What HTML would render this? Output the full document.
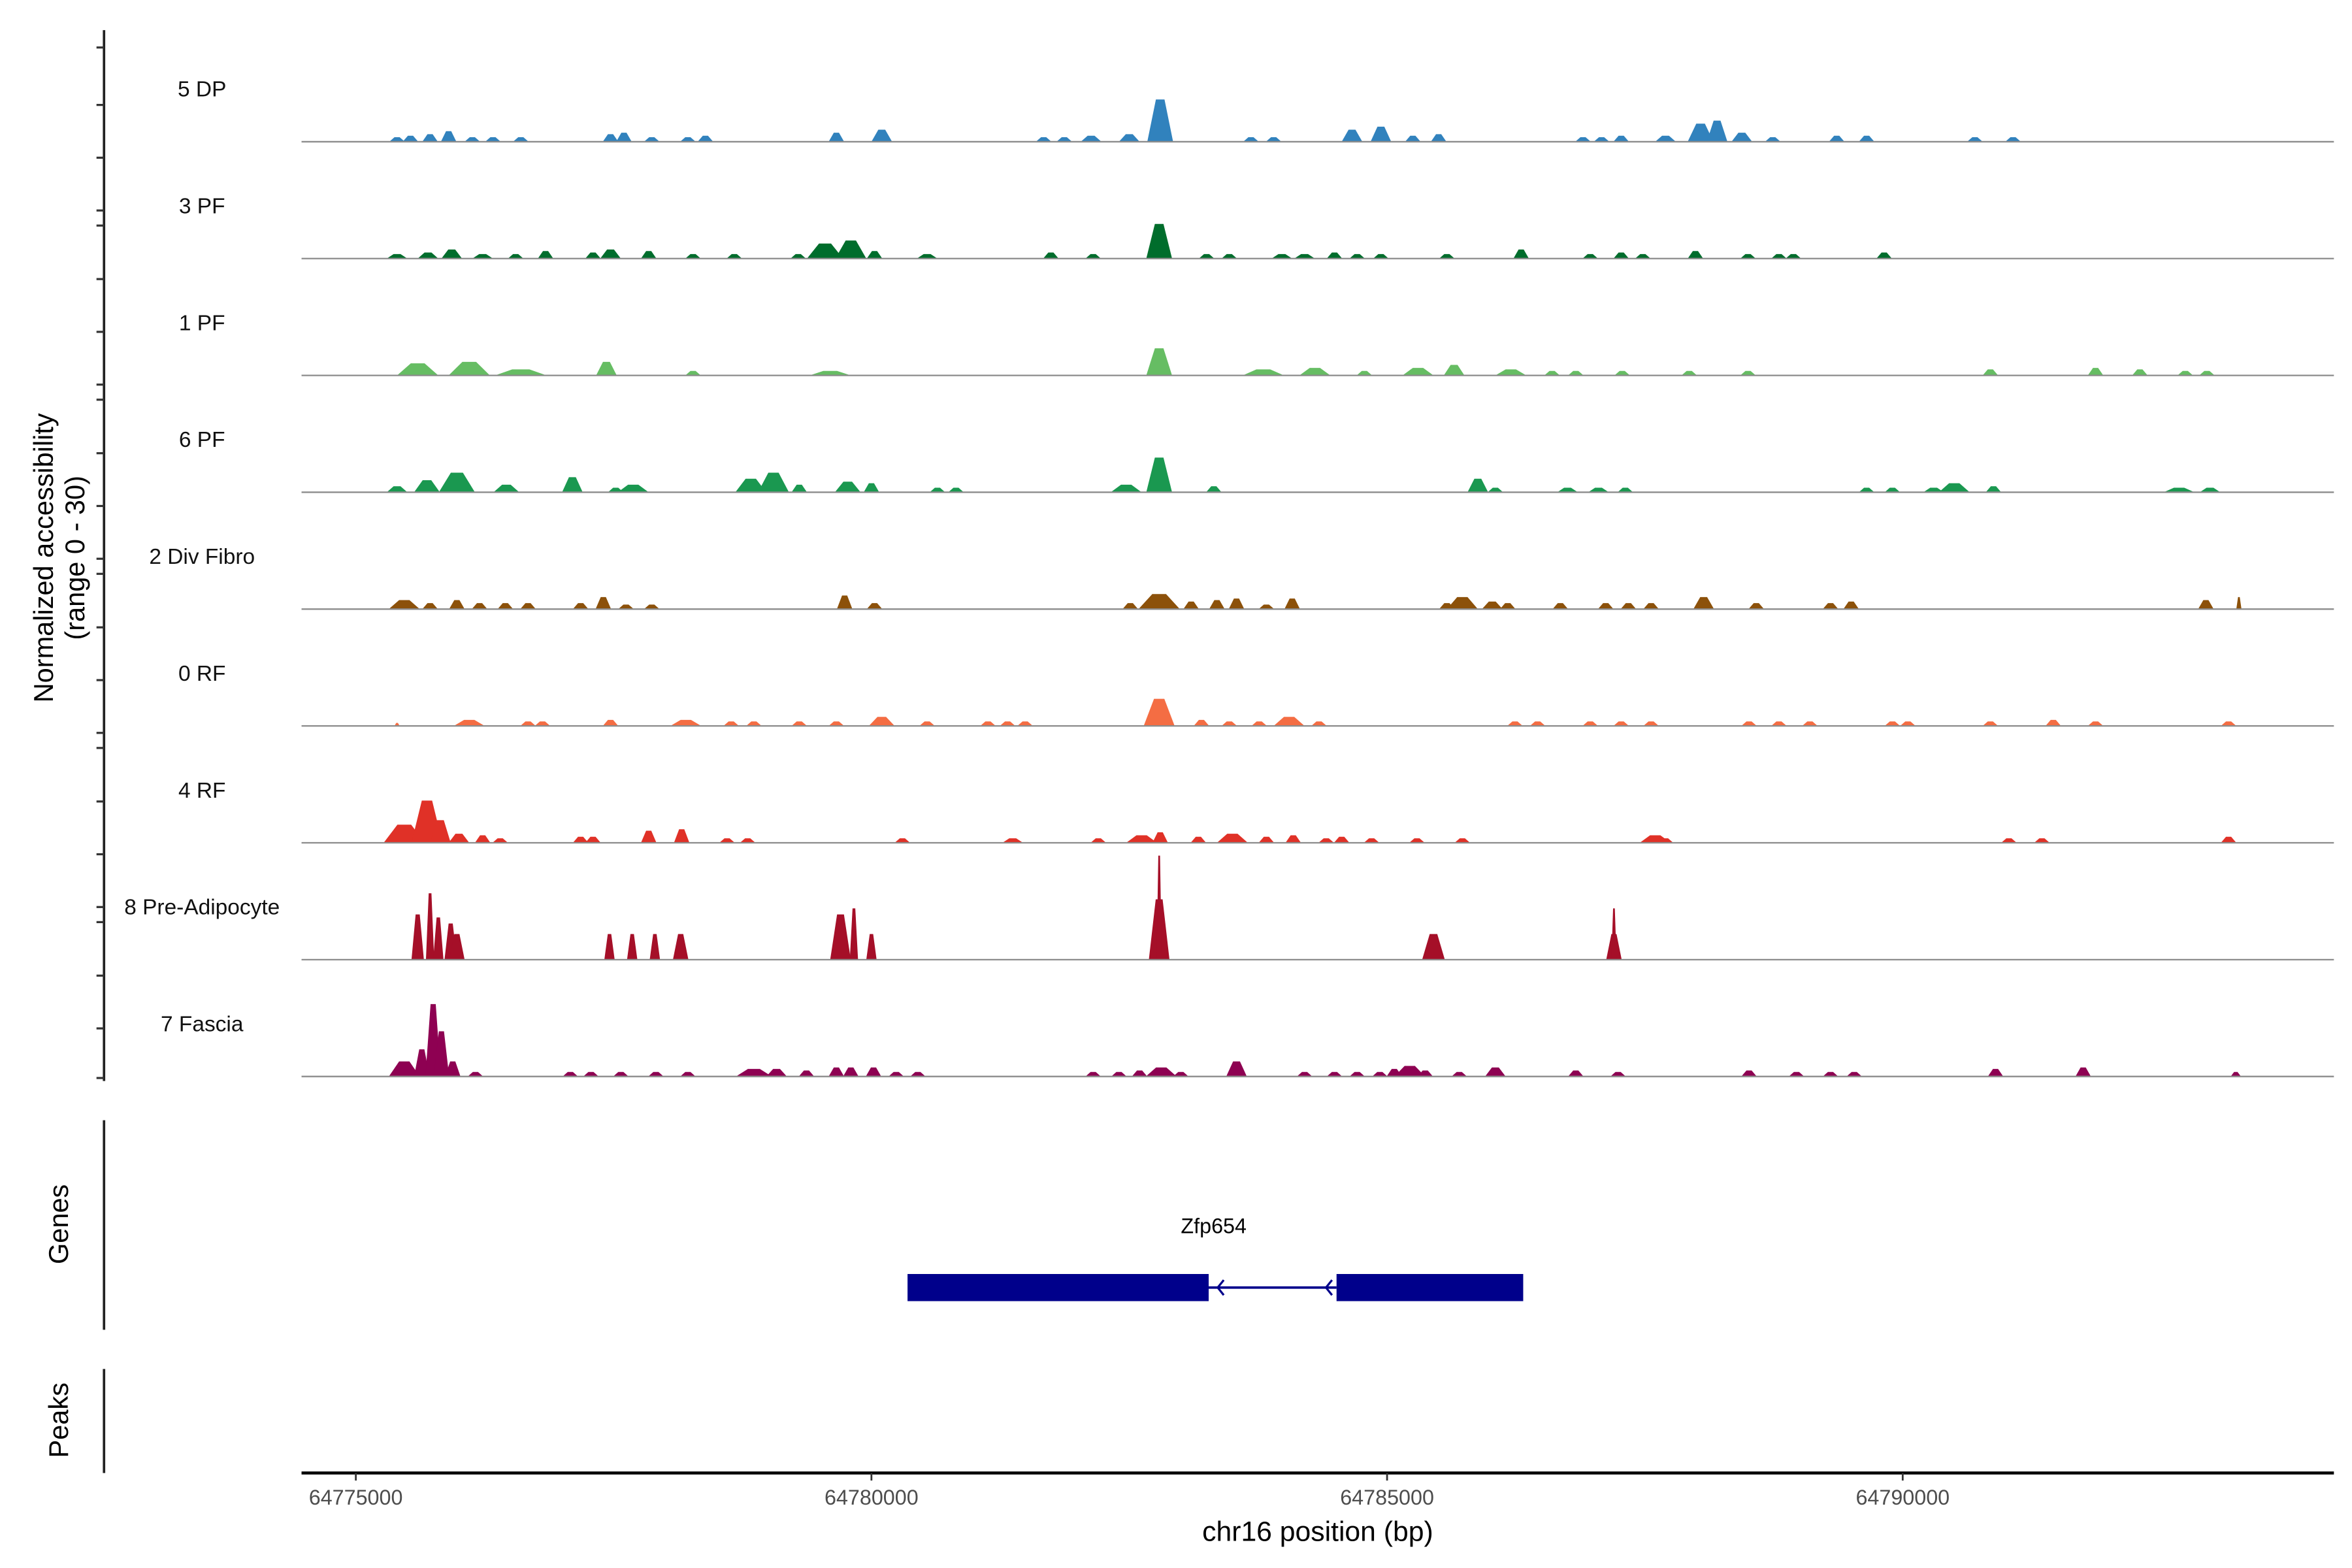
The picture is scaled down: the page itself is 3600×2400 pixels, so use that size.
<!DOCTYPE html>
<html><head><meta charset="utf-8"><style>html,body{margin:0;padding:0;background:#fff}svg{display:block}</style></head>
<body>
<svg id="chart" xmlns="http://www.w3.org/2000/svg" width="3600" height="2400" viewBox="0 0 1560 1040" font-family="Liberation Sans, sans-serif">
<rect width="1560" height="1040" fill="#fff"/>
<g id="tracks"></g>
<g id="axes"></g>
</svg>
<script>
const trackNames = ["5 DP","3 PF","1 PF","6 PF","2 Div Fibro","0 RF","4 RF","8 Pre-Adipocyte","7 Fascia"];
const trackColors = ["#3182bd","#006d2c","#66bd63","#1a9850","#8c510a","#f46d43","#e03127","#a50f28","#8e0152"];
const xTickValues = [64775000,64780000,64785000,64790000];
const xTickLabels = ["64775000","64780000","64785000","64790000"];
// peaks: [offset kb from 64775000, value (0-30), width kb]
const peaks5DP = [[0.4,1.2,.15],[0.53,1.6,.15],[0.72,2,.15],[0.9,2.8,.15],[1.13,1.2,.15],[1.33,1.2,.15],[1.6,1.2,.15],[2.47,2,.15],[2.6,2.4,.15],[2.87,1.2,.15],[3.22,1.2,.15],[3.39,1.6,.15],[4.66,2.4,.15],[5.1,3.2,.2],[6.67,1.2,.15],[6.87,1.2,.15],[7.13,1.6,.2],[7.5,2,.2],[7.8,11.2,.25],[8.68,1.2,.15],[8.9,1.2,.15],[9.66,3.2,.2],[9.94,4,.2],[10.25,1.6,.15],[10.5,2,.15],[11.9,1.2,.15],[12.08,1.2,.15],[12.27,1.6,.15],[12.7,1.6,.2],[13.04,4.8,.25],[13.2,5.6,.2],[13.44,2.4,.2],[13.74,1.2,.15],[14.36,1.6,.15],[14.65,1.6,.15],[15.7,1.2,.15],[16.07,1.2,.15]];
const peaks3PF = [[0.4,1.2,.2],[0.7,1.6,.2],[0.93,2.4,.2],[1.23,1.2,.2],[1.55,1.2,.15],[1.84,2,.15],[2.3,1.6,.15],[2.47,2.4,.2],[2.84,2,.15],[3.27,1.2,.15],[3.67,1.2,.15],[4.29,1.2,.15],[4.55,4,.35],[4.8,4.8,.3],[5.03,2,.15],[5.54,1.2,.2],[6.74,1.6,.15],[7.15,1.2,.15],[7.79,9.2,.25],[8.25,1.2,.15],[8.47,1.2,.15],[8.98,1.2,.2],[9.2,1.2,.2],[9.49,1.6,.15],[9.71,1.2,.15],[9.94,1.2,.15],[10.58,1.2,.15],[11.3,2.4,.15],[11.97,1.2,.15],[12.27,1.6,.15],[12.48,1.2,.15],[12.99,2,.15],[13.5,1.2,.15],[13.8,1.2,.15],[13.94,1.2,.15],[14.82,1.6,.15]];
const peaks1PF = [[0.6,3.2,.4],[1.1,3.6,.4],[1.6,1.6,.5],[2.43,3.6,.2],[3.27,1.2,.15],[4.6,1.2,.4],[7.79,7.2,.25],[8.8,1.6,.4],[9.3,2,.3],[9.78,1.2,.15],[10.3,2,.3],[10.65,2.8,.2],[11.2,1.6,.3],[11.6,1.2,.15],[11.83,1.2,.15],[12.28,1.2,.15],[12.93,1.2,.15],[13.5,1.2,.15],[15.85,1.6,.15],[16.87,2,.15],[17.3,1.6,.15],[17.74,1.2,.15],[17.95,1.2,.15]];
const peaks6PF = [[0.4,1.6,.2],[0.69,3.2,.25],[0.98,5.2,.35],[1.46,2,.25],[2.1,4,.2],[2.52,1.2,.15],[2.69,2,.3],[3.83,3.6,.3],[4.05,5.2,.3],[4.3,2,.15],[4.77,2.8,.25],[5.0,2.4,.15],[5.64,1.2,.15],[5.82,1.2,.15],[7.47,2,.3],[7.79,9.2,.25],[8.32,1.6,.15],[10.88,3.6,.2],[11.05,1.2,.15],[11.75,1.2,.2],[12.05,1.2,.2],[12.31,1.2,.15],[14.65,1.2,.15],[14.9,1.2,.15],[15.3,1.2,.2],[15.5,2.4,.3],[15.88,1.6,.15],[17.68,1.2,.3],[17.98,1.2,.2]];
const peaks2DF = [[0.47,2.4,.3],[0.72,1.6,.15],[0.98,2.4,.15],[1.2,1.6,.15],[1.45,1.6,.15],[1.67,1.6,.15],[2.18,1.6,.15],[2.4,3.2,.15],[2.62,1.2,.15],[2.87,1.2,.15],[4.74,3.6,.15],[5.03,1.6,.15],[7.51,1.6,.15],[7.79,4,.4],[8.1,2,.15],[8.35,2.4,.15],[8.54,2.8,.15],[8.83,1.2,.15],[9.08,2.8,.15],[10.58,1.6,.15],[10.73,3.2,.3],[11.02,2,.2],[11.17,1.6,.15],[11.68,1.6,.15],[12.12,1.6,.15],[12.34,1.6,.15],[12.56,1.6,.15],[13.07,3.2,.2],[13.58,1.6,.15],[14.3,1.6,.15],[14.5,2,.15],[17.94,2.4,.15],[18.26,3.2,.05]];
const peaks0RF = [[0.4,0.8,.05],[1.1,1.6,.3],[1.67,1.2,.15],[1.81,1.2,.15],[2.47,1.6,.15],[3.2,1.6,.3],[3.64,1.2,.15],[3.86,1.2,.15],[4.3,1.2,.15],[4.66,1.2,.15],[5.1,2.4,.25],[5.54,1.2,.15],[6.13,1.2,.15],[6.32,1.2,.15],[6.49,1.2,.15],[7.79,7.2,.3],[8.2,1.6,.15],[8.47,1.2,.15],[8.76,1.2,.15],[9.05,2.4,.3],[9.34,1.2,.15],[11.24,1.2,.15],[11.46,1.2,.15],[11.97,1.2,.15],[12.27,1.2,.15],[12.56,1.2,.15],[13.51,1.2,.15],[13.8,1.2,.15],[14.1,1.2,.15],[14.9,1.2,.15],[15.05,1.2,.15],[15.85,1.2,.15],[16.46,1.6,.15],[16.87,1.2,.15],[18.16,1.2,.15]];
const peaks4RF = [[0.47,4.8,.4],[0.69,11.2,.3],[0.82,6,.2],[1.0,2.4,.2],[1.23,2,.15],[1.4,1.2,.15],[2.18,1.6,.15],[2.3,1.6,.15],[2.84,3.2,.15],[3.16,3.6,.15],[3.6,1.2,.15],[3.8,1.2,.15],[5.3,1.2,.15],[6.37,1.2,.2],[7.2,1.2,.15],[7.62,2,.3],[7.8,2.8,.15],[8.17,1.6,.15],[8.5,2.4,.3],[8.83,1.6,.15],[9.09,2,.15],[9.41,1.2,.15],[9.56,1.6,.15],[9.85,1.2,.15],[10.29,1.2,.15],[10.73,1.2,.15],[12.6,2,.3],[12.7,1.2,.15],[16.03,1.2,.15],[16.35,1.2,.15],[18.16,1.6,.15]];
const peaks8PA = [[0.6,12,.12],[0.72,17.6,.08],[0.8,11.2,.1],[0.92,9.6,.12],[0.98,6.8,.15],[2.46,6.8,.1],[2.68,6.8,.1],[2.9,6.8,.1],[3.15,6.8,.15],[4.7,12,.2],[4.83,13.6,.08],[5.0,6.8,.1],[7.79,16,.2],[7.79,27.6,.05],[10.45,6.8,.22],[12.2,6.8,.15],[12.2,13.6,.05]];
const peaks7FA = [[0.47,4,.3],[0.64,7.2,.15],[0.75,19.2,.15],[0.83,12,.15],[0.94,4,.15],[1.16,1.2,.15],[2.08,1.2,.15],[2.28,1.2,.15],[2.57,1.2,.15],[2.91,1.2,.15],[3.22,1.2,.15],[3.86,2,.35],[4.08,2,.2],[4.37,1.6,.15],[4.66,2.4,.15],[4.8,2.4,.15],[5.02,2.4,.15],[5.24,1.2,.15],[5.45,1.2,.15],[7.15,1.2,.15],[7.4,1.2,.15],[7.6,1.6,.15],[7.81,2.4,.3],[8.0,1.2,.15],[8.54,4,.2],[9.2,1.2,.15],[9.49,1.2,.15],[9.71,1.2,.15],[9.93,1.2,.15],[10.07,2,.15],[10.22,2.8,.3],[10.37,1.6,.15],[10.7,1.2,.15],[11.05,2.4,.2],[11.83,1.6,.15],[12.24,1.2,.15],[13.51,1.6,.15],[13.97,1.2,.15],[14.3,1.2,.15],[14.53,1.2,.15],[15.9,2,.15],[16.75,2.4,.15],[18.23,1.2,.1]];
const trackPeaks = [peaks5DP,peaks3PF,peaks1PF,peaks6PF,peaks2DF,peaks0RF,peaks4RF,peaks8PA,peaks7FA];
const geneExons = [[64780350,64783270],[64784510,64786320]];
const geneSpan = [64783270,64784510];

const NS="http://www.w3.org/2000/svg";
function mk(tag, attrs, parent){const e=document.createElementNS(NS,tag);for(const k in attrs)e.setAttribute(k,attrs[k]);parent.appendChild(e);return e;}
const X0=200,X1=1548;
function xScale(bp){return 236+(bp-64775000)*0.0684;}
function yScale(v,base){return base - v*(75/30);}
const tg=document.getElementById('tracks');
const ax=document.getElementById('axes');
const baseline0=94, step=77.5;
trackNames.forEach((nm,i)=>{
  const base=baseline0+i*step;
  const g=mk('g',{},tg);
  
  
  trackPeaks[i].forEach(p=>{
    const c=64775000+p[0]*1000, w=p[2]*1000;
    const xa=xScale(c-w/2), xb=xScale(c-w/6), xc=xScale(c+w/6), xd=xScale(c+w/2);
    const yt=yScale(p[1],base);
    const poly=mk('polygon',{points:`${xa},${base} ${xb},${yt} ${xc},${yt} ${xd},${base}`,fill:trackColors[i]},g);
    
    
  });
  const bl=mk('line',{x1:X0,x2:X1,y1:base,y2:base,stroke:'#8c8c8c','stroke-width':1},g);
  
  
  const t=mk('text',{x:134,y:base-30,'text-anchor':'middle','font-size':14.5,fill:'#111'},g);
  t.textContent=nm;
  
  
});
// left axis
const la=mk('line',{x1:69,x2:69,y1:20,y2:717,stroke:'#222','stroke-width':1.6},ax);


const tys=[31.5];
for(let k=0;k<6;k++){[0,35,70,80].forEach(o=>{const y=69.6+115.5*k+o;if(y<716)tys.push(y);});}
tys.push(715);
tys.forEach(y=>{const tk=mk('line',{x1:64,x2:69,y1:y,y2:y,stroke:'#333','stroke-width':1.4},ax);
  
  });
function rotText(txt,x,y,size,name){const t=mk('text',{x:x,y:y,'text-anchor':'middle','font-size':size,fill:'#000',transform:`rotate(-90 ${x} ${y})`},ax);t.textContent=txt;
  
  return t;}
rotText('Normalized accessibility',35,370,18,'y-axis-title');
rotText('(range 0 - 30)',56,370,18,'y-axis-range');
const gl=mk('line',{x1:69,x2:69,y1:743,y2:882,stroke:'#222','stroke-width':1.6},ax);


rotText('Genes',45,812,18,'genes-title');
const pl=mk('line',{x1:69,x2:69,y1:908,y2:977,stroke:'#222','stroke-width':1.6},ax);


rotText('Peaks',45,942,18,'peaks-title');
// gene
const gg=mk('g',{},ax);


mk('line',{x1:xScale(geneSpan[0]),x2:xScale(geneSpan[1]),y1:854,y2:854,stroke:'#00008b','stroke-width':1.6},gg);
geneExons.forEach(e=>{const r=mk('rect',{x:xScale(e[0]),y:845,width:xScale(e[1])-xScale(e[0]),height:18,fill:'#00008b'},gg);
  
  });
[xScale(geneSpan[0])+7,xScale(geneSpan[1])-6].forEach(x=>{mk('polyline',{points:`${x+3},849 ${x-1},854 ${x+3},859`,fill:'none',stroke:'#00008b','stroke-width':1.4},gg);});
const gt=mk('text',{x:805,y:818,'text-anchor':'middle','font-size':14,fill:'#000'},gg);gt.textContent='Zfp654';


// x axis
const xa=mk('line',{x1:X0,x2:X1,y1:977,y2:977,stroke:'#000','stroke-width':2},ax);


xTickValues.forEach((v,i)=>{const x=xScale(v);
  const tk=mk('line',{x1:x,x2:x,y1:977,y2:982,stroke:'#333','stroke-width':1.2},ax);
  
  
  const t=mk('text',{x:x,y:998,'text-anchor':'middle','font-size':14,fill:'#4d4d4d'},ax);t.textContent=xTickLabels[i];
  
  });
const xt=mk('text',{x:874,y:1022,'text-anchor':'middle','font-size':18.5,fill:'#000'},ax);xt.textContent='chr16 position (bp)';


</script>
</body></html>
